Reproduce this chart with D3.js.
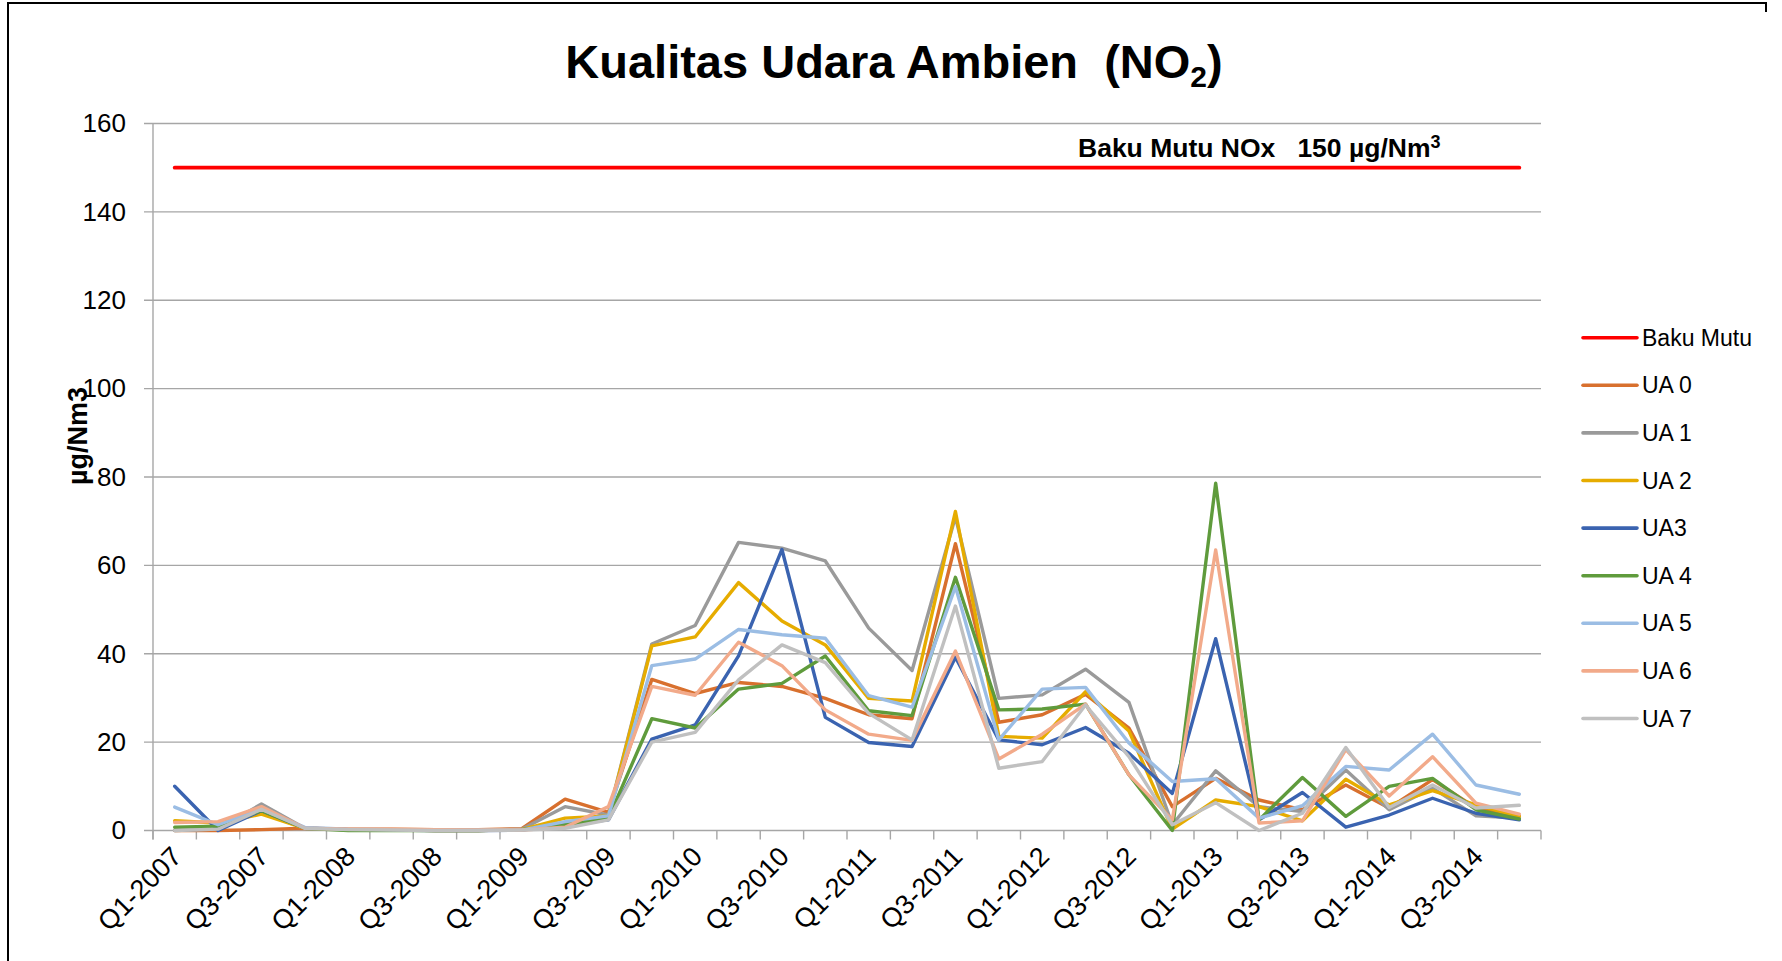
<!DOCTYPE html>
<html>
<head>
<meta charset="utf-8">
<script src="https://cdn.jsdelivr.net/npm/d3@7"></script>
<style>
  html, body { margin: 0; padding: 0; background: #fff; }
  svg { display: block; }
  text { font-family: "Liberation Sans", Arial, sans-serif; }
</style>
</head>
<body>
<svg id="chart" width="1782" height="961"></svg>
<script>
// ---------- DATA ----------
const categories = [
  "Q1-2007","Q2-2007","Q3-2007","Q4-2007",
  "Q1-2008","Q2-2008","Q3-2008","Q4-2008",
  "Q1-2009","Q2-2009","Q3-2009","Q4-2009",
  "Q1-2010","Q2-2010","Q3-2010","Q4-2010",
  "Q1-2011","Q2-2011","Q3-2011","Q4-2011",
  "Q1-2012","Q2-2012","Q3-2012","Q4-2012",
  "Q1-2013","Q2-2013","Q3-2013","Q4-2013",
  "Q1-2014","Q2-2014","Q3-2014","Q4-2014"
];
const bakuMutu = categories.map(() => 150);
const ua0 = [0,0,0.2,0.5,0.3,0.3,0.2,0.2,0.4,7.1,4.1,34.2,31.0,33.5,32.6,29.9,26.2,25.3,64.9,24.5,26.2,30.8,23.2,5.4,11.8,6.9,4.7,10.3,5.1,11.5,5.1,3.3];
const ua1 = [0,0.3,6.0,0.5,0.2,0.2,0,0,0.3,5.4,3.5,42.2,46.4,65.2,63.9,61.0,45.8,36.2,71.0,29.9,30.7,36.5,29.0,1.3,13.5,5.4,4.3,13.7,4.7,9.6,3.3,2.8];
const ua2 = [2.2,1.7,3.7,0.5,0.2,0.2,0,0,0.2,2.8,3.3,41.8,43.8,56.1,47.4,42.0,29.9,29.3,72.2,21.3,20.9,31.4,22.5,0.3,6.9,5.4,2.2,11.6,5.8,9.0,5.8,3.2];
const ua3 = [10.0,0,4.5,0.5,0.2,0.1,0,0,0.1,1.3,2.4,20.7,23.9,39.5,63.6,25.6,19.9,19.0,39.2,20.5,19.4,23.3,17.5,8.4,43.4,2.4,8.6,0.75,3.5,7.3,3.9,2.4];
const ua4 = [0.75,1.0,4.5,0.5,0,0,0,0,0.2,1.3,2.8,25.3,23.2,32.0,33.3,39.5,27.1,26.0,57.3,27.3,27.5,28.6,12.6,0,78.6,2.4,12.0,3.2,10.0,11.8,4.7,2.6];
const ua5 = [5.3,1.3,4.8,0.7,0.3,0.2,0.1,0.1,0.1,2.0,3.3,37.3,38.8,45.5,44.3,43.5,30.5,27.9,55.2,20.5,32.0,32.4,19.8,11.1,11.7,2.8,5.6,14.5,13.7,21.8,10.3,8.2];
const ua6 = [1.8,2.0,5.4,0.5,0.3,0.3,0.2,0.1,0.1,0.75,5.4,32.6,30.6,42.6,37.3,27.3,21.8,20.4,40.6,16.2,21.8,28.6,12.6,2.4,63.5,1.7,2.2,18.3,7.8,16.7,6.2,3.7];
const ua7 = [0,0.3,4.8,0.5,0.2,0.1,0,0,0.1,0.5,2.4,20.0,22.2,34.1,42.0,38.0,26.5,20.5,50.8,14.1,15.6,28.4,16.7,1.3,6.3,0,3.9,18.8,5.2,10.3,5.1,5.7];
const seriesNames = ["Baku Mutu","UA 0","UA 1","UA 2","UA3","UA 4","UA 5","UA 6","UA 7"];
const seriesValues = [bakuMutu, ua0, ua1, ua2, ua3, ua4, ua5, ua6, ua7];
const seriesColors = ["#FF0000","#D8702E","#9A9A9A","#E6AC00","#3A63B0","#5F9B3C","#9BBDE4","#F2AA8A","#C0C0C0"];
const yTicks = [0,20,40,60,80,100,120,140,160];
const xLabelCats = categories.filter((d, i) => i % 2 === 0);

// ---------- LAYOUT ----------
const svg = d3.select("#chart");
const plotLeft = 153, plotRight = 1541, plotTop = 123.5, plotBottom = 830.5;

const x = d3.scaleBand().domain(categories).range([plotLeft, plotRight]).paddingInner(0).paddingOuter(0);
const xc = d => x(d) + x.bandwidth() / 2;
const y = d3.scaleLinear().domain([0, 160]).range([plotBottom, plotTop]);

// frame
svg.append("path")
  .attr("d", `M8,961 V3 H1766 V12`)
  .attr("fill", "none").attr("stroke", "#000").attr("stroke-width", 2);

// title
const title = svg.append("text")
  .attr("x", 894).attr("y", 78)
  .attr("text-anchor", "middle")
  .attr("font-size", 47).attr("font-weight", "bold").attr("fill", "#000")
  .attr("xml:space", "preserve").style("white-space", "pre");
title.append("tspan").text("Kualitas Udara Ambien  (NO");
title.append("tspan").attr("font-size", 30).attr("dy", 9).text("2");
title.append("tspan").attr("dy", -9).text(")");

// gridlines
svg.append("g").selectAll("line").data(yTicks).join("line")
  .attr("x1", plotLeft - 9).attr("x2", plotRight)
  .attr("y1", d => y(d)).attr("y2", d => y(d))
  .attr("stroke", "#a6a6a6").attr("stroke-width", 1.4);

// y axis line
svg.append("line")
  .attr("x1", plotLeft).attr("x2", plotLeft)
  .attr("y1", plotTop).attr("y2", plotBottom + 9)
  .attr("stroke", "#a6a6a6").attr("stroke-width", 1.4);

// y axis labels via d3 axis
const yAxis = d3.axisLeft(y).tickValues(yTicks).tickSize(0).tickPadding(0);
const gy = svg.append("g").attr("transform", `translate(${plotLeft - 27},0)`).call(yAxis);
gy.select(".domain").remove();
gy.selectAll("text").attr("font-size", 26).attr("fill", "#000")
  .style("font-family", "'Liberation Sans', Arial, sans-serif");

// x axis ticks (category boundaries)
const bounds = categories.map(d => x(d)).concat([plotRight]);
svg.append("g").selectAll("line").data(bounds).join("line")
  .attr("x1", d => d).attr("x2", d => d)
  .attr("y1", plotBottom).attr("y2", plotBottom + 9)
  .attr("stroke", "#a6a6a6").attr("stroke-width", 1.4);

// x labels
svg.append("g").selectAll("text").data(xLabelCats).join("text")
  .attr("transform", d => `translate(${xc(d) + 2},${plotBottom + 21}) rotate(-45)`)
  .attr("text-anchor", "end")
  .attr("dy", "0.35em")
  .attr("font-size", 27).attr("fill", "#000")
  .text(d => d);

// y axis title
svg.append("text")
  .attr("transform", `translate(78,436) rotate(-90)`)
  .attr("text-anchor", "middle").attr("dy", "0.35em")
  .attr("font-size", 27).attr("font-weight", "bold").attr("fill", "#000")
  .text("µg/Nm3");

// lines
const line = d3.line().x((d, i) => xc(categories[i])).y(d => y(d));
svg.append("g").selectAll("path").data(seriesValues).join("path")
  .attr("d", d => line(d))
  .attr("fill", "none")
  .attr("stroke", (d, i) => seriesColors[i])
  .attr("stroke-width", (d, i) => i === 0 ? 3.8 : 3.4)
  .attr("stroke-linejoin", "round")
  .attr("stroke-linecap", "round");

// Baku Mutu annotation
svg.append("text")
  .attr("x", 1078).attr("y", 157)
  .attr("font-size", 26.5).attr("font-weight", "bold").attr("fill", "#000")
  .attr("xml:space", "preserve").style("white-space", "pre")
  .html("Baku Mutu NOx   150 µg/Nm<tspan font-size='18' dy='-9'>3</tspan>");

// legend
const legend = svg.append("g");
const lg = legend.selectAll("g").data(seriesNames).join("g")
  .attr("transform", (d, i) => `translate(1583,${337.7 + i * 47.6})`);
lg.append("line").attr("x1", 0).attr("x2", 54).attr("y1", 0).attr("y2", 0)
  .attr("stroke", (d, i) => seriesColors[i]).attr("stroke-width", 3.6)
  .attr("stroke-linecap", "round");
lg.append("text").attr("x", 59).attr("dy", "0.35em")
  .attr("font-size", 23).attr("fill", "#000").text(d => d);
</script>
</body>
</html>
